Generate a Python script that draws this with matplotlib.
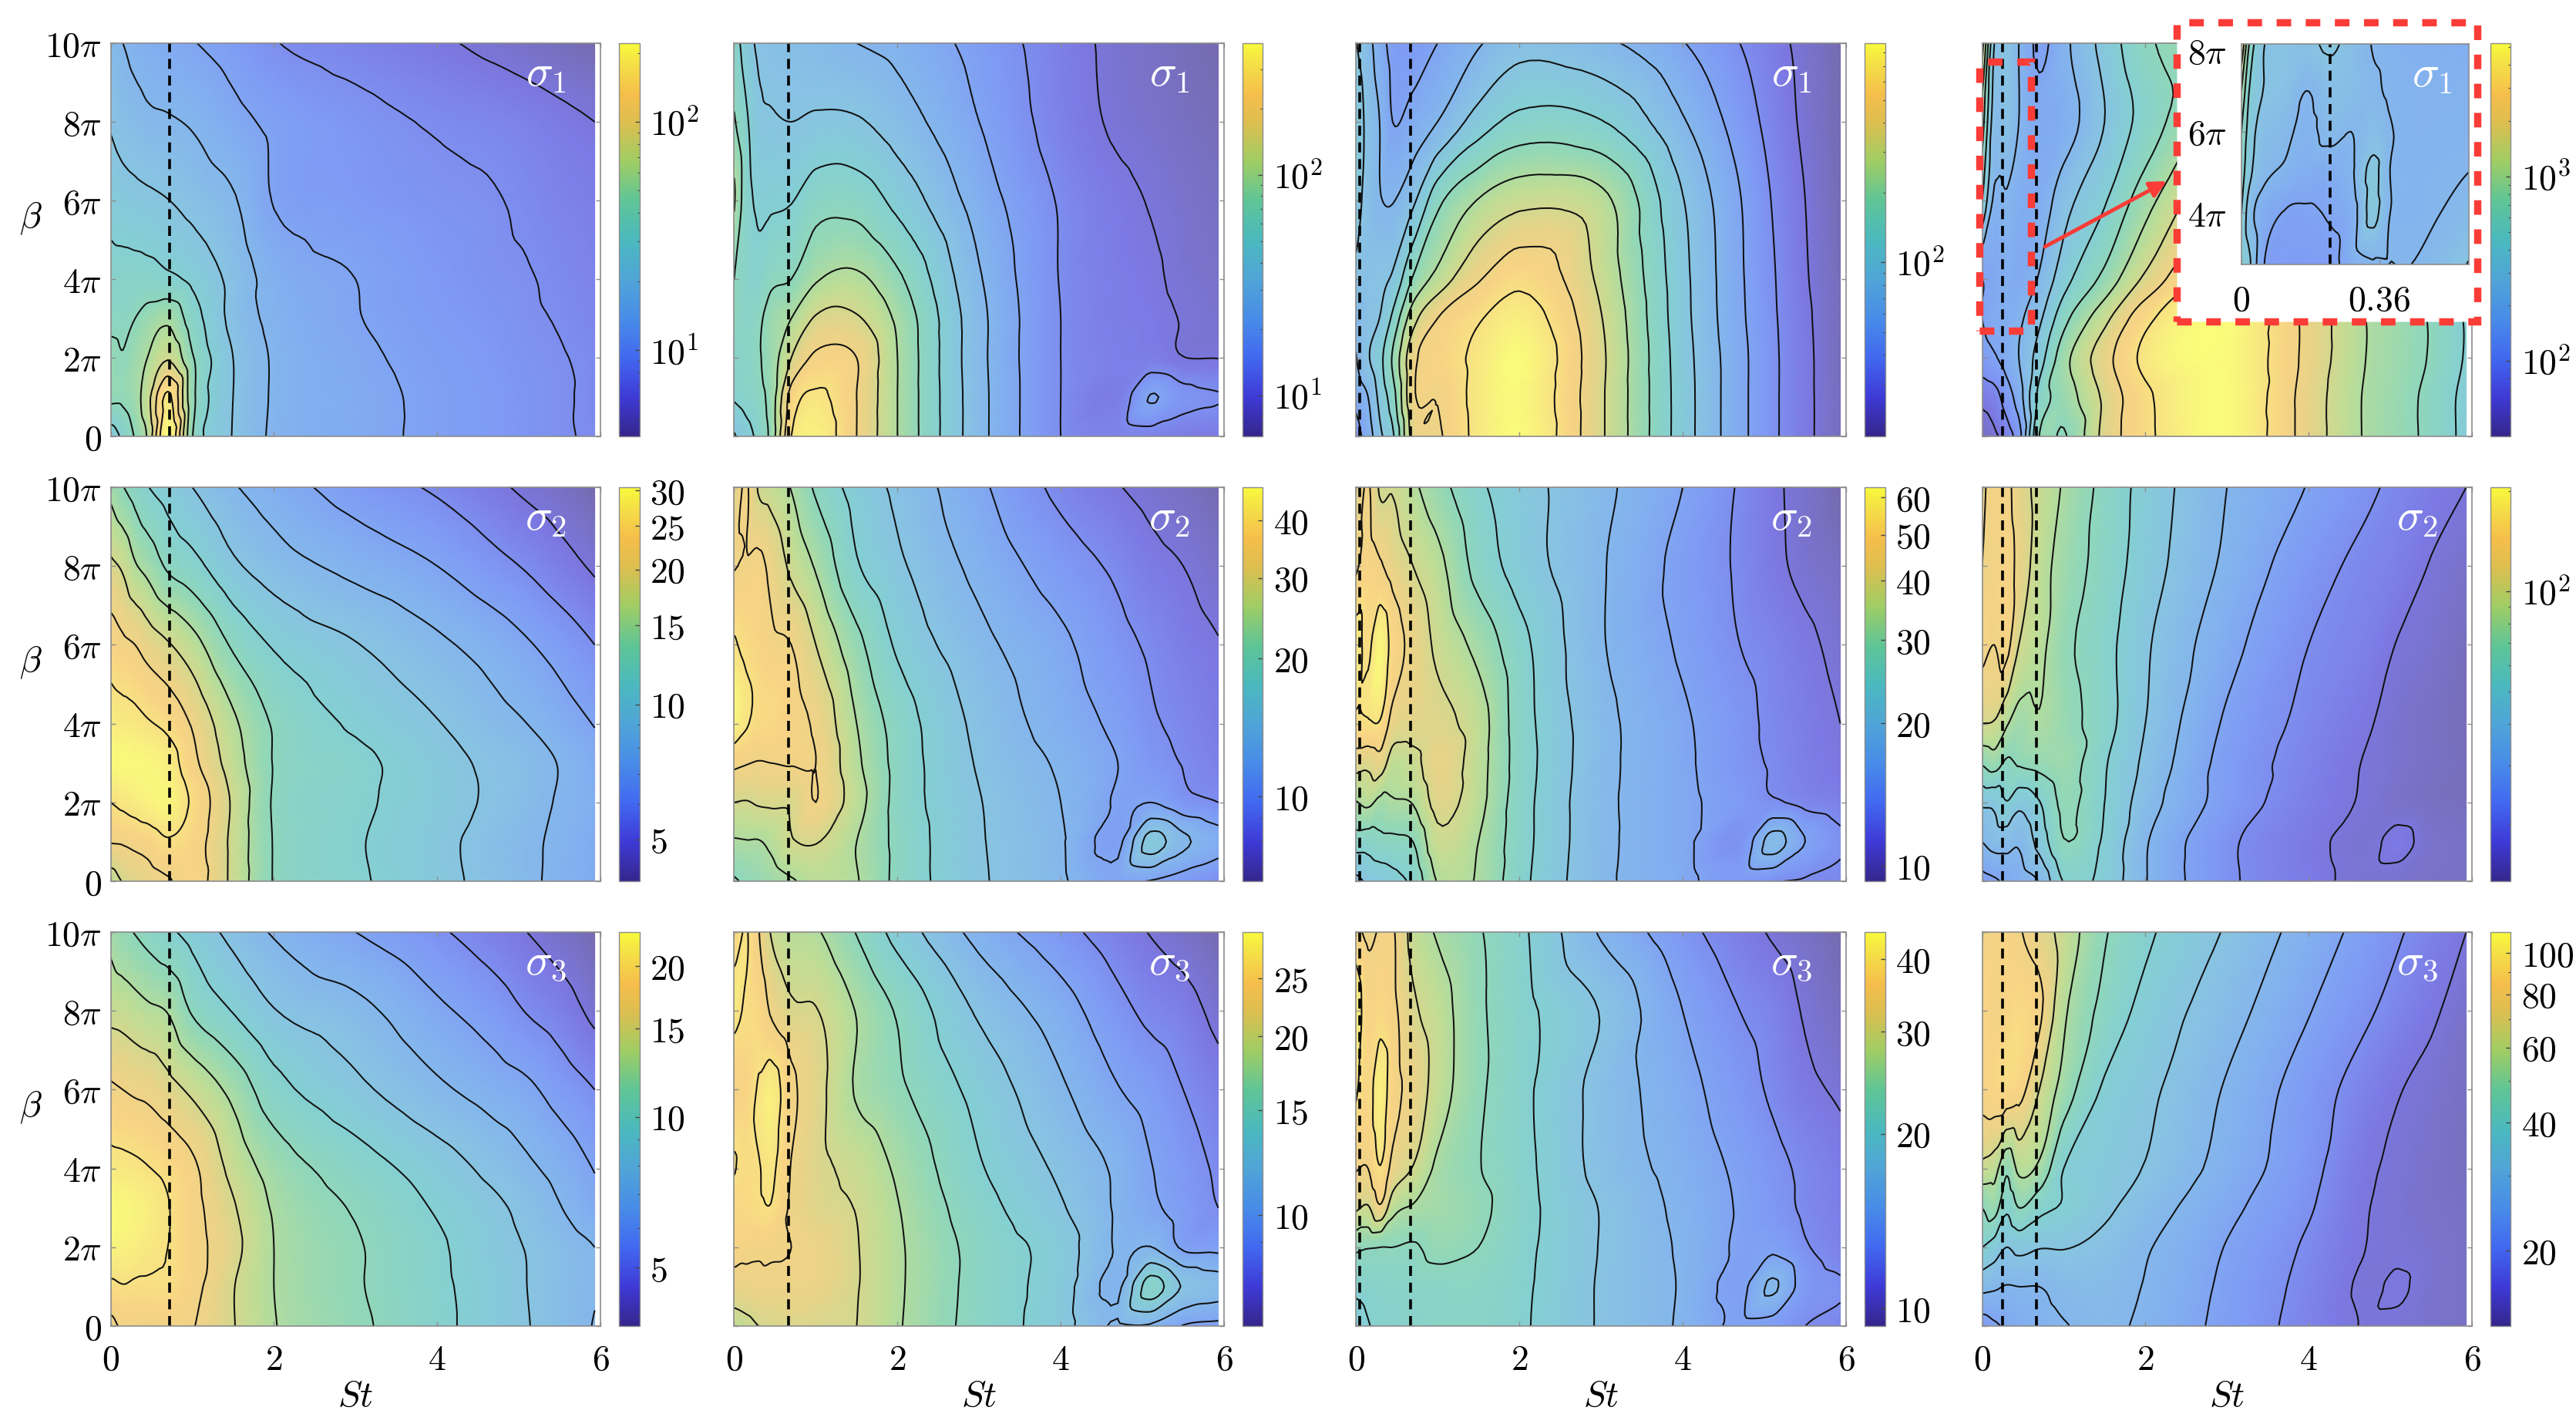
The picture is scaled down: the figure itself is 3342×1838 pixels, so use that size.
import numpy as np
import matplotlib
matplotlib.use('Agg')
import matplotlib.pyplot as plt
from matplotlib.colors import LinearSegmentedColormap, LogNorm
from matplotlib.cm import ScalarMappable
from matplotlib.patches import Rectangle, FancyArrowPatch
from matplotlib.ticker import FixedLocator, NullFormatter
from matplotlib.tri import Triangulation, UniformTriRefiner, CubicTriInterpolator

plt.rcParams['mathtext.fontset'] = 'cm'
plt.rcParams['font.family'] = 'DejaVu Sans'

FW, FH = 3342, 1838

# grid of the maps
st_nodes = [0, .15, .3, .45, .7, 1, 1.5, 2, 3, 4, 4.7, 5.1, 5.5, 5.93]
beta_nodes = [0, 1, 2, 3, 4, 6, 8, 10]   # in units of pi

# values, as position between contour levels (0 = bottom of colorbar, 12 = top)
# one row per beta node, one column per St node
s1_a = [[5.5, 6.2, 7.1, 8.1, 12, 7.05, 4.95, 3.85, 3.3, 2.8, 2.5, 2.27, 2.09, 1.9],
        [7.2, 7.2, 7.6, 8.6, 11.2, 7.3, 5, 3.9, 3.3, 2.8, 2.5, 2.27, 2.1, 1.85],
        [7.3, 7.05, 7.5, 8, 8.9, 7.1, 5, 3.9, 3.2, 2.7, 2.4, 2.2, 2.05, 1.85],
        [6.7, 6.7, 7, 7.4, 7.8, 6.5, 4.7, 3.75, 3.05, 2.55, 2.3, 2.1, 1.95, 1.7],
        [6.4, 6.4, 6.4, 6.4, 6.2, 5.8, 4.7, 3.6, 3, 2.45, 2.15, 2.05, 1.85, 1.6],
        [5.6, 5.4, 5.3, 5.2, 5.02, 4.7, 4.1, 2.95, 2.5, 2.2, 2.05, 1.85, 1.6, 1.4],
        [4.9, 4.6, 4.4, 4.2, 4.1, 3.9, 3.3, 2.8, 2.3, 1.9, 1.7, 1.5, 1.25, 1],
        [4.2, 4, 3.7, 3.5, 3.3, 3.05, 2.6, 2.05, 1.6, 1.15, .75, .5, .25, 0]]
s2_a = [[8.5, 9.05, 9.3, 9.5, 9.9, 10.45, 8.75, 6.95, 6.15, 5.35, 4.6, 4.2, 3.75, 3.3],
        [10.05, 10.1, 10.25, 10.4, 10.9, 10.5, 8.75, 6.95, 6.1, 5.3, 4.55, 4.2, 3.8, 3.3],
        [11, 11.2, 11.4, 11.6, 11.8, 10.85, 8.85, 6.9, 6.2, 5.45, 4.8, 4.4, 3.9, 3.5],
        [11.9, 11.9, 11.85, 11.8, 11.5, 10.3, 8.5, 6.95, 6.25, 5.4, 4.75, 4.45, 3.95, 3.35],
        [11.5, 11.4, 11.3, 11.1, 10.75, 9.9, 8.2, 6.9, 5.85, 5.05, 4.35, 4, 3.5, 2.95],
        [10.5, 10.2, 10, 9.6, 9.1, 8.4, 6.85, 5.9, 5.05, 4.2, 3.55, 3.1, 2.6, 2],
        [9.2, 8.85, 8.1, 7.7, 6.85, 6.35, 5.2, 4.5, 3.7, 3, 2.3, 1.9, 1.4, .85],
        [7.7, 7.05, 6.55, 6.05, 5.55, 5, 4.1, 3.5, 2.55, 1.85, 1.2, .8, .45, 0]]
s3_a = [[9.7, 10.15, 10.1, 10.05, 10.15, 10.05, 9.05, 8.05, 7.2, 6.25, 5.5, 5.05, 4.5, 3.95],
        [10.8, 10.95, 10.85, 10.85, 10.85, 10.3, 9.05, 8, 7.1, 6.2, 5.5, 5, 4.5, 4.05],
        [11.7, 11.6, 11.5, 11.3, 11, 10.4, 9.3, 8, 7.1, 6.15, 5.35, 4.95, 4.5, 4],
        [11.9, 11.85, 11.7, 11.5, 11.05, 10.35, 9.1, 7.9, 6.9, 5.9, 5.2, 4.7, 4.05, 3.3],
        [11.35, 11.3, 11.2, 11.05, 10.75, 10.2, 8.7, 7.6, 6.5, 5.5, 4.7, 4.2, 3.65, 2.95],
        [10.15, 10, 9.85, 9.75, 9.35, 8.8, 7.7, 6.4, 5.25, 4.2, 3.55, 3.2, 2.6, 2],
        [8.7, 8.6, 8.4, 8.2, 7.95, 6.9, 5.95, 5.05, 4.3, 3.2, 2.5, 1.95, 1.5, .75],
        [7.7, 7.25, 6.95, 6.65, 6.2, 5.65, 4.7, 3.9, 3, 2.15, 1.45, 1, .55, 0]]

s1_b = [[4.9, 5.6, 6.3, 7.3, 11, 11.6, 10, 8, 4.35, 2, 1.55, 1.55, 1.3, 1.2],
        [6.1, 6.4, 6.7, 7.4, 10.4, 11.15, 10, 8, 4.35, 2, 1.4, 3.05, 2.3, 2.05],
        [6.5, 6.5, 6.9, 7.45, 9, 10.2, 10, 8, 4.3, 2, 1.45, 1.4, 1.02, .98],
        [6.8, 6.55, 6.8, 7.45, 8, 9.1, 9.1, 7.8, 4.3, 2, 1.35, 1.25, .95, .7],
        [7, 6.4, 6.3, 6.8, 7, 7.9, 8.2, 7.2, 4.1, 1.95, 1.35, 1.15, .8, .6],
        [8.1, 6.4, 5.85, 5.85, 5.95, 6.6, 6.6, 5.7, 3.55, 1.9, 1.22, .95, .65, .4],
        [7.1, 6.15, 5.25, 5.1, 5, 5.15, 5.1, 4.5, 3, 1.55, .85, .65, .4, .2],
        [6.5, 5.5, 4.8, 4.65, 4.55, 4.35, 4, 3.7, 2.65, 1.45, .75, .5, .25, 0]]
s2_b = [[6.9, 7.15, 7.35, 7.55, 7.9, 8.3, 8.05, 6.75, 5.15, 4.15, 3, 2.95, 2.5, 2],
        [7.9, 7.95, 7.95, 8.2, 8.9, 9.05, 8, 6.75, 5.1, 4.1, 2.8, 5.4, 4.2, 3.4],
        [9, 8.95, 9.1, 9.15, 9.15, 10, 8.4, 6.7, 5.05, 4, 2.9, 3, 2.35, 2],
        [10.2, 10.05, 9.95, 10, 10.05, 10, 8.2, 6.7, 4.9, 3.85, 3, 2.4, 1.95, 1.5],
        [11.7, 11.1, 10.7, 10.65, 10.3, 9.85, 8, 6.6, 4.75, 3.55, 2.75, 2.15, 1.75, 1.3],
        [11.1, 10.75, 10.5, 10.2, 10, 9, 7.3, 5.85, 4.3, 3.2, 2.3, 1.85, 1.4, 1.05],
        [9.95, 10.1, 10.25, 9.75, 8.8, 7.9, 6.1, 5.2, 3.7, 2.5, 1.8, 1.3, 1, .55],
        [9.4, 10.1, 8.9, 8.6, 7.95, 6.85, 5.6, 4.8, 3.2, 1.75, 1.05, .7, .4, 0]]
s3_b = [[8.45, 8.7, 9, 9.1, 9.2, 9.15, 9, 8.1, 6.6, 5.4, 3.9, 3.85, 2.95, 2.75],
        [9.6, 9.7, 9.75, 9.75, 9.75, 9.7, 9.05, 8.15, 6.65, 5.45, 3.85, 6.45, 4.9, 4.4],
        [10.35, 10.2, 10.15, 10.15, 10, 9.75, 9.05, 8.15, 6.65, 5.5, 3.9, 4.02, 2.85, 2.75],
        [10.6, 10.7, 10.85, 10.95, 9.85, 9.35, 8.95, 8.05, 6.4, 5.1, 3.85, 3.2, 2.6, 2],
        [11.05, 10.75, 10.95, 11.2, 9.95, 9.3, 8.7, 7.85, 6.1, 4.8, 3.8, 3.05, 2.45, 1.85],
        [10.3, 10.5, 11.1, 11.5, 10.25, 9.4, 7.9, 7.2, 5.65, 4.15, 3.05, 2.6, 2, 1.4],
        [11.3, 10.85, 10.65, 9.9, 9.2, 9.05, 7.95, 6.9, 4.85, 3.45, 2.3, 1.75, 1.4, .7],
        [10.5, 11.05, 10.05, 8.95, 8.25, 8.1, 6.95, 5.65, 3.65, 2.35, 1.45, .95, .55, 0]]

s1_c = [[2.6, 3.5, 4.8, 5.8, 9.4, 9.85, 11.3, 11.95, 9.15, 5.5, 3.3, 2.2, 1.25, .3],
        [3.3, 4, 5.35, 6.55, 9.8, 10.05, 11.35, 11.85, 9.15, 5.5, 3.3, 2.2, 1.25, .3],
        [3.95, 4.9, 5.75, 7.1, 9.7, 10.4, 11.25, 11.95, 9.2, 5.45, 3.3, 2.2, 1.25, .25],
        [4.3, 4.7, 5.05, 6.2, 8.6, 10, 10.9, 11.5, 9.05, 5.35, 3.2, 2.15, 1.2, .2],
        [4.8, 4.7, 4.85, 5.15, 7.1, 8.35, 9.9, 10.75, 8.75, 5.3, 3.15, 2.1, 1.1, .2],
        [5.4, 4.6, 4.05, 3.95, 4.8, 6.7, 8.05, 8.7, 8.3, 5.05, 3.05, 1.95, 1, .1],
        [5.6, 4.7, 3.95, 3, 3.4, 4, 5.45, 6.3, 6.05, 4.1, 2.55, 1.65, .8, .05],
        [5.05, 4.35, 3.4, 2.7, 2.5, 3, 3.9, 4.6, 4.2, 3.05, 2, 1.35, .7, 0]]
s2_c = [[4.75, 5.15, 5.35, 5.65, 6.25, 8.05, 7.9, 6.35, 4.25, 3.3, 2.4, 2.1, 1.9, 1.7],
        [6.5, 6.45, 6.7, 6.75, 7, 8.7, 8, 6.45, 4.3, 3.25, 2.2, 4.4, 3, 2.15],
        [7.95, 8.2, 7.75, 7.9, 8.05, 9.3, 8.3, 6.5, 4.3, 3.25, 2.5, 2.1, 1.75, 1.5],
        [9.4, 9.25, 9.55, 8.5, 8.7, 9.6, 8.4, 6.6, 4.35, 3.2, 2.3, 1.9, 1.45, 1.1],
        [10.8, 10.9, 10.9, 9.6, 9.4, 9.3, 8.45, 6.55, 4.35, 3.15, 2.3, 1.8, 1.4, 1],
        [11.4, 10.8, 11.8, 10.6, 9.7, 8.8, 7.7, 6.35, 4.1, 2.85, 2, 1.65, 1.2, .75],
        [9.85, 10.4, 10.1, 9.6, 9, 8.3, 6.65, 5.6, 4.1, 2.7, 1.85, 1.25, .75, .4],
        [9.3, 10.1, 8.85, 8.9, 8.2, 7.4, 6.2, 5.45, 4.25, 3, 1.9, 1.2, .65, 0]]
s3_c = [[5.6, 5.95, 6.2, 6.3, 6.4, 6.5, 6.5, 6.15, 4.9, 3.85, 2.8, 2.55, 2, 1.7],
        [6.2, 6.3, 6.4, 6.45, 6.5, 6.6, 6.6, 6.2, 4.9, 3.9, 2.75, 4.15, 2.5, 2.1],
        [7.2, 7.05, 7, 7, 6.9, 7.3, 7, 6.3, 4.95, 3.85, 2.85, 2.8, 2.1, 1.55],
        [9.15, 8.9, 9.85, 8.4, 7.9, 7.65, 7.25, 6.4, 4.95, 3.75, 2.9, 2.4, 1.85, 1.4],
        [10.05, 10, 10.95, 9.65, 8.95, 7.8, 7.05, 6.35, 4.7, 3.6, 2.8, 2.3, 1.8, 1.35],
        [11.1, 10.6, 11.6, 10.4, 9.7, 8.55, 7.2, 6.3, 4.65, 3.35, 2.4, 1.85, 1.25, .85],
        [11.7, 10.4, 10.65, 10.25, 9.2, 8.5, 7.2, 6.35, 4.95, 3, 2, 1.6, .9, .35],
        [10.3, 9.8, 10.1, 10.1, 8.65, 7.9, 7.1, 6.25, 3.9, 2.35, 1.4, .9, .5, 0]]

s1_d = [[.4, .8, 1.5, 2.6, 7, 6.9, 9.3, 10.75, 11.95, 9.55, 7.9, 7.4, 6.7, 5.7],
        [1.3, 1.6, 2.5, 3.5, 6.3, 7.4, 9.2, 10.8, 11.95, 9.55, 7.9, 7.4, 6.7, 5.7],
        [2.6, 2.9, 3.4, 4, 5.5, 7.6, 9.6, 11.25, 11.9, 9.7, 8, 7.5, 6.9, 5.9],
        [3, 3.3, 3.4, 3.8, 4.8, 6.65, 8.7, 10.7, 11.95, 9.7, 8, 7.5, 6.9, 5.9],
        [3, 3.2, 3.5, 3.3, 4.1, 5.6, 7.3, 9.2, 11.5, 9.5, 7.8, 7.2, 6.6, 5.6],
        [6, 3.8, 3.9, 3.5, 3.4, 4.6, 5.9, 7.6, 10, 8.8, 7.2, 6.6, 6, 5.1],
        [7.5, 4.5, 4.7, 4, 3.3, 3.5, 5, 6.4, 8.3, 7.4, 6.2, 5.6, 5, 4.2],
        [9.5, 5, 4.9, 4, 2.8, 3.75, 5.35, 6.8, 7.5, 6, 4.5, 3.8, 2.5, 1]]
s2_d = [[2.6, 2.85, 3.2, 3.5, 4.05, 6.05, 5.7, 4.05, 2.2, 1.3, .75, .65, .55, .45],
        [4, 4.4, 4.4, 4.15, 5.35, 6.95, 5.85, 4.1, 2.2, 1.25, .75, 1.25, .65, .5],
        [5.2, 5.25, 5.95, 5.3, 5.95, 7.2, 6, 4.5, 2.6, 1.45, .9, .6, .4, .3],
        [7.1, 7.45, 6.85, 7.1, 7.3, 7.5, 6.1, 4.8, 2.65, 1.6, .95, .7, .45, .3],
        [9, 8.9, 8.1, 7.6, 7.9, 7.4, 6.4, 5, 2.85, 1.75, 1.1, .7, .45, .25],
        [10.2, 10, 10.3, 9, 8.3, 7.3, 6.35, 5.15, 3.35, 2, 1.5, .95, .7, .3],
        [10, 10.1, 10.4, 9.7, 8.5, 7.6, 6.6, 5.5, 3.8, 2.4, 1.75, 1.45, .95, .6],
        [9.9, 10.2, 10.25, 9.5, 8.7, 7.9, 6.7, 5.65, 4, 2.95, 2.2, 1.75, 1.35, 1]]
s3_d = [[2.5, 2.85, 3.15, 3.4, 3.65, 3.95, 4.2, 3.8, 2.7, 1.6, .95, .85, .7, .5],
        [4.3, 4.15, 3.95, 4, 4, 4.3, 4.35, 3.95, 2.8, 1.7, .88, 1.1, .7, .5],
        [6, 5.55, 5, 5.3, 5.05, 5.05, 4.7, 4.1, 2.95, 1.85, 1, .85, .7, .5],
        [7, 7.4, 6.2, 7, 6.3, 5.9, 5.2, 4.5, 3.25, 2.1, 1.05, .8, .6, .45],
        [8.7, 8.4, 7.2, 8.2, 7.8, 6, 5.4, 4.95, 3.6, 2.3, 1.15, .85, .6, .35],
        [10.3, 10.5, 10.6, 10.4, 9, 7.6, 5.85, 5.25, 3.9, 2.5, 1.55, 1.05, .75, .4],
        [10.6, 10.2, 10.5, 10.7, 10.2, 8.2, 6.7, 5.7, 4.4, 3.05, 2.15, 1.65, 1.15, .6],
        [10, 10.2, 10.5, 10.1, 9.5, 8.65, 7.1, 6.2, 4.9, 3.55, 2.65, 2.1, 1.55, 1]]

# zoomed part of the top right panel
inset_st = [0, .02, .056, .113, .168, .232, .286, .344, .384, .443, .519, .592]
inset_beta = [2.74, 4, 5, 6, 7, 8.15]
inset_vals = [[6, 5.2, 3.1, 2.6, 2.6, 2.7, 3.5, 3.9, 4, 4, 4.4, 5.05],
              [6, 4.5, 3.5, 2.95, 2.9, 3.1, 3.5, 5.3, 4.05, 3.85, 4, 4.35],
              [6.5, 5.3, 4.3, 3.85, 3.45, 3.4, 3.85, 5.3, 4.05, 3.85, 3.9, 4],
              [7, 5.6, 4.6, 4.25, 3.75, 4.3, 4, 4.5, 4.1, 3.75, 3.75, 3.8],
              [8, 6, 5, 4.7, 4, 4.5, 4.5, 4.15, 3.9, 3.75, 3.7, 3.7],
              [10, 7, 5.1, 4.85, 4.7, 5.2, 4.6, 3.95, 3.8, 3.6, 3.55, 3.5]]

# colorbar limits and labels
panel_vals = [[s1_a, s1_b, s1_c, s1_d], [s2_a, s2_b, s2_c, s2_d], [s3_a, s3_b, s3_c, s3_d]]
panel_lims = [[(4.2, 221), (6.5, 396), (17.8, 880), (39, 5260)],
              [(4.03, 30.5), (6.54, 47.3), (9.27, 63), (13.5, 205)],
              [(3.82, 23.4), (6.51, 29.9), (9.33, 44.5), (13.3, 112)]]
panel_ticks = [[[10, 100], [10, 100], [100], [100, 1000]],
               [[5, 10, 15, 20, 25, 30], [10, 20, 30, 40], [10, 20, 30, 40, 50, 60], [100]],
               [[5, 10, 15, 20], [10, 15, 20, 25], [10, 20, 30, 40], [20, 40, 60, 80, 100]]]
dash_st = [[.72], [.67], [.05, .67], [.25, .67]]
n_levels = 12

col_x = [(143.5, 779), (952.5, 1588), (1759, 2395), (2571.5, 3207)]
cbar_x = [(803, 829.5), (1612, 1638), (2419, 2445.5), (3231, 3257)]
row_y = [(56, 566), (632, 1143), (1209, 1720)]

anchors = [(0, (53, 38, 140)), (.1, (62, 58, 215)), (.2, (66, 105, 240)), (.3, (72, 140, 232)),
           (.4, (80, 165, 215)), (.5, (75, 185, 190)), (.6, (95, 197, 150)), (.7, (160, 205, 100)),
           (.8, (222, 190, 80)), (.87, (245, 190, 75)), (.95, (245, 225, 70)), (1, (248, 250, 60))]
parula = LinearSegmentedColormap.from_list('par', [(a, tuple(c / 255 for c in col)) for a, col in anchors], N=512)
# the maps are see-through over white in the original
a = 0.68
pale = LinearSegmentedColormap.from_list('pale', [(t, tuple(a * c / 255 + (1 - a) for c in col)) for t, col in anchors], N=512)

GREY = '#8c8c8c'
FS = 16.5


def rect(x0, x1, y0, y1):
    return [x0 / FW, 1 - y1 / FH, (x1 - x0) / FW, (y1 - y0) / FH]


def grid_tri(st, beta):
    xx, yy = np.meshgrid(st, beta)
    nx, ny = len(st), len(beta)
    tris = []
    for j in range(ny - 1):
        for i in range(nx - 1):
            p = j * nx + i
            tris.append([p, p + 1, p + nx + 1])
            tris.append([p, p + nx + 1, p + nx])
    return Triangulation(xx.ravel(), yy.ravel(), np.array(tris))


def draw_map(ax, st, beta, vals, lims):
    lo, hi = lims
    z = np.array(vals, dtype=float).ravel()
    tri = grid_tri(st, beta)
    # let the library round off the coarse grid
    tri2, z2 = UniformTriRefiner(tri).refine_field(z, triinterpolator=CubicTriInterpolator(tri, z, kind='geom'), subdiv=3)
    sig = lo * (hi / lo) ** (np.clip(z2, 0, n_levels) / n_levels)
    ax.tripcolor(tri2, sig, cmap=pale, norm=LogNorm(lo, hi), shading='gouraud')
    lev = lo * (hi / lo) ** (np.arange(1, n_levels) / n_levels)
    ax.tricontour(tri2, sig, levels=lev, colors='#111111', linewidths=0.72)


def style(ax):
    for s in ax.spines.values():
        s.set_color(GREY)
        s.set_linewidth(0.6)
    ax.tick_params(direction='in', top=True, right=True, length=2.2, width=0.5, color=GREY, labelsize=FS, pad=4)


fig = plt.figure(figsize=(FW / 200, FH / 200), dpi=200, facecolor='white')

for r in range(3):
    for c in range(4):
        ax = fig.add_axes(rect(col_x[c][0], col_x[c][1], row_y[r][0], row_y[r][1]))
        draw_map(ax, st_nodes, beta_nodes, panel_vals[r][c], panel_lims[r][c])
        for d in dash_st[c]:
            ax.axvline(d, color='k', lw=1.3, dashes=(3.6, 2.4))
        ax.set_xlim(0, 6)
        ax.set_ylim(0, 10)
        ax.set_xticks([0, 2, 4, 6])
        ax.set_yticks([0, 2, 4, 6, 8, 10])
        style(ax)
        if r == 2:
            ax.set_xticklabels([f'${v}$' for v in [0, 2, 4, 6]])
            ax.tick_params(axis='x', pad=8)
        else:
            ax.set_xticklabels([])
        if c == 0:
            ax.set_yticklabels(['$0$', r'$2\pi$', r'$4\pi$', r'$6\pi$', r'$8\pi$', r'$10\pi$'])
        else:
            ax.set_yticklabels([])
        # the top right one is only seen inside the inset
        if not (r == 0 and c == 3):
            ax.text(.888, .925, rf'$\sigma_{r + 1}$', transform=ax.transAxes, color='white',
                    fontsize=21, ha='center', va='center', zorder=8)

        cax = fig.add_axes(rect(cbar_x[c][0], cbar_x[c][1], row_y[r][0], row_y[r][1]))
        lo, hi = panel_lims[r][c]
        sm = ScalarMappable(LogNorm(lo, hi), parula)
        cb = fig.colorbar(sm, cax=cax)
        cb.outline.set_edgecolor(GREY)
        cb.outline.set_linewidth(0.5)
        ticks = panel_ticks[r][c]
        minor = [m * 10 ** e for e in range(0, 5) for m in range(1, 10) if lo <= m * 10 ** e <= hi]
        cax.yaxis.set_major_locator(FixedLocator(ticks))
        cax.yaxis.set_minor_locator(FixedLocator(minor))
        cax.yaxis.set_minor_formatter(NullFormatter())
        if r == 0 or (r == 1 and c == 3):
            labels = [f'$10^{{{int(np.log10(t))}}}$' for t in ticks]
        else:
            labels = [f'${t}$' for t in ticks]
        cax.set_yticklabels(labels)
        cax.tick_params(which='major', direction='in', length=2, width=0.5, color='#444444', labelsize=FS, pad=5)
        cax.tick_params(which='minor', direction='in', length=1.2, width=0.4, color='#444444')

    fig.text(40 / FW, 1 - (row_y[r][0] + 227) / FH, r'$\beta$', fontsize=17, ha='center', va='center')

for c in range(4):
    mid = (col_x[c][0] + col_x[c][1]) / 2
    fig.text(mid / FW, 1 - 1811 / FH, r'$St$', fontsize=17, ha='center', va='center')

# inset of the top right panel
RED = '#fa3c37'
fig.add_artist(Rectangle((2824 / FW, 1 - 417 / FH), 390 / FW, 388.5 / FH, transform=fig.transFigure,
                         facecolor='white', edgecolor=RED, lw=3.4, linestyle=(0, (2, 2)), zorder=5))
iax = fig.add_axes(rect(2908, 3202.5, 57, 343))
iax.set_zorder(6)
draw_map(iax, inset_st, inset_beta, inset_vals, panel_lims[0][3])
iax.axvline(.232, color='k', lw=1.3, dashes=(3.6, 2.4))
iax.set_xlim(0, .592)
iax.set_ylim(2.74, 8.15)
iax.set_xticks([0, .36])
iax.set_xticklabels(['$0$', '$0.36$'])
iax.set_yticks([4, 6, 8])
iax.set_yticklabels([r'$4\pi$', r'$6\pi$', r'$8\pi$'])
style(iax)
iax.tick_params(top=False, right=False)
iax.tick_params(axis='x', pad=9)
iax.tick_params(axis='y', pad=7)
iax.text(.84, .865, r'$\sigma_1$', transform=iax.transAxes, color='white', fontsize=21, ha='center', va='center')

fig.add_artist(Rectangle((2568 / FW, 1 - 429 / FH), 67 / FW, 349 / FH, transform=fig.transFigure,
                         facecolor='none', edgecolor=RED, lw=3.4, linestyle=(0, (2, 2)), zorder=7))
fig.add_artist(FancyArrowPatch((2653 / FW, 1 - 320 / FH), (2811 / FW, 1 - 235 / FH), transform=fig.transFigure,
                               arrowstyle='-|>', mutation_scale=16, color=RED, lw=1.8, shrinkA=0, shrinkB=0, zorder=7))

fig.savefig('out.png', dpi=200)
